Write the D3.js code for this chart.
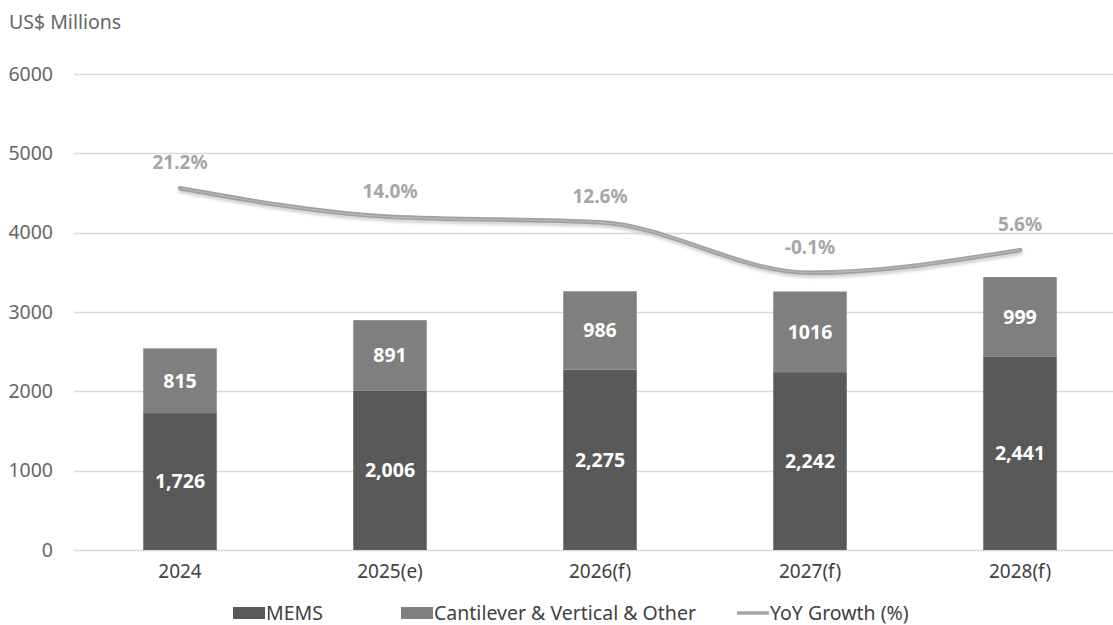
<!DOCTYPE html>
<html>
<head>
<meta charset="utf-8">
<script src="https://cdn.jsdelivr.net/npm/d3@7"></script>
<style>
  html, body { margin: 0; padding: 0; background: #fff; }
  svg { display: block; font-family: "Noto Sans", "Open Sans", sans-serif; }
</style>
</head>
<body>
<svg id="chart" width="1113" height="625"></svg>
<script>
const categories = ["2024", "2025(e)", "2026(f)", "2027(f)", "2028(f)"];
const memsValues = [1726, 2006, 2275, 2242, 2441];
const otherValues = [815, 891, 986, 1016, 999];
const yoyValues = [21.2, 14.0, 12.6, -0.1, 5.6];
const yTicks = [0, 1000, 2000, 3000, 4000, 5000, 6000];
const seriesNames = ["MEMS", "Cantilever & Vertical & Other", "YoY Growth (%)"];
const unitLabel = "US$ Millions";

const svg = d3.select("#chart");
const W = 1113, H = 625;
const plot = { left: 75, right: 1125, top: 74, bottom: 550 };
const colors = { mems: "#595959", other: "#7f7f7f", line: "#a5a5a5", grid: "#d9d9d9" };

const x = d3.scaleBand().domain(categories).range([plot.left, plot.right]).padding(0);
const y = d3.scaleLinear().domain([0, 6000]).range([plot.bottom, plot.top]);
const y2 = d3.scaleLinear().domain([-70, 50]).range([plot.bottom, plot.top]);
const barW = x.bandwidth() * 0.35;

const defs = svg.append("defs");
const f = defs.append("filter").attr("id", "blur").attr("x", "-10%").attr("y", "-50%").attr("width", "120%").attr("height", "200%");
f.append("feGaussianBlur").attr("stdDeviation", 1.5);

// unit label
svg.append("text").attr("x", 9).attr("y", 29).attr("fill", "#666")
  .attr("font-size", 19.5).text(unitLabel);

// y axis
const yAxis = d3.axisLeft(y).tickValues(yTicks).tickSize(0).tickPadding(0).tickFormat(d3.format("d"));
const gY = svg.append("g").attr("transform", `translate(53,0)`).call(yAxis);
gY.select(".domain").remove();
gY.selectAll("text").attr("font-size", 19.5).attr("fill", "#666").attr("font-family", "Noto Sans, sans-serif");

// gridlines
svg.append("g").selectAll("line").data(yTicks).join("line")
  .attr("x1", 74).attr("x2", W)
  .attr("y1", d => Math.round(y(d)) + 0.5).attr("y2", d => Math.round(y(d)) + 0.5)
  .attr("stroke", colors.grid).attr("stroke-width", 1.3);

// x axis labels
const xAxis = d3.axisBottom(x).tickSize(0).tickPadding(0);
const gX = svg.append("g").attr("transform", `translate(0,${plot.bottom + 14})`).call(xAxis);
gX.select(".domain").remove();
gX.selectAll("text").attr("font-size", 19).attr("fill", "#404040").attr("dy", "0.75em").attr("font-family", "Noto Sans, sans-serif");

// stacked bars
const stackData = categories.map((c, i) => ({ cat: c, mems: memsValues[i], other: otherValues[i] }));
const stack = d3.stack().keys(["mems", "other"])(stackData);
const fills = { mems: colors.mems, other: colors.other };
const formats = { mems: d3.format(","), other: d3.format("d") };

const layers = svg.append("g").selectAll("g").data(stack).join("g")
  .attr("fill", d => fills[d.key]);
layers.selectAll("rect").data(d => d).join("rect")
  .attr("x", d => x(d.data.cat) + (x.bandwidth() - barW) / 2)
  .attr("width", barW)
  .attr("y", d => y(d[1]))
  .attr("height", d => y(d[0]) - y(d[1]));

// bar labels
stack.forEach(layer => {
  svg.append("g").selectAll("text").data(layer).join("text")
    .attr("x", d => x(d.data.cat) + x.bandwidth() / 2)
    .attr("y", d => (y(d[0]) + y(d[1])) / 2)
    .attr("dy", "0.35em")
    .attr("text-anchor", "middle")
    .attr("fill", "#fff").attr("font-weight", "bold").attr("font-size", 19.5)
    .text(d => formats[layer.key](d[1] - d[0]));
});

// YoY line
const linePts = categories.map((c, i) => [x(c) + x.bandwidth() / 2, y2(yoyValues[i])]);
const lineGen = d3.line().curve(d3.curveMonotoneX);
svg.append("path").attr("d", lineGen(linePts))
  .attr("fill", "none").attr("stroke", "#cfcfcf").attr("stroke-width", 4)
  .attr("stroke-linecap", "round").attr("transform", "translate(1,3)").attr("filter", "url(#blur)");
svg.append("path").attr("d", lineGen(linePts))
  .attr("fill", "none").attr("stroke", "#a0a0a0").attr("stroke-width", 4.5).attr("stroke-linecap", "round");
svg.append("path").attr("d", lineGen(linePts))
  .attr("fill", "none").attr("stroke", "#b8b8b8").attr("stroke-width", 1.2).attr("stroke-linecap", "round");

svg.append("g").selectAll("text").data(yoyValues).join("text")
  .attr("x", (d, i) => x(categories[i]) + x.bandwidth() / 2)
  .attr("y", d => y2(d) - 19)
  .attr("text-anchor", "middle")
  .attr("fill", "#a6a6a6").attr("font-weight", "bold").attr("font-size", 19)
  .text(d => d.toFixed(1) + "%");

// legend
const legend = svg.append("g");
const legItems = [
  { name: seriesNames[0], type: "rect", color: colors.mems, x: 233 },
  { name: seriesNames[1], type: "rect", color: colors.other, x: 401 },
  { name: seriesNames[2], type: "line", color: "#a5a5a5", x: 737 }
];
legItems.forEach(it => {
  const g = legend.append("g").attr("transform", `translate(${it.x},613)`);
  if (it.type === "rect") {
    g.append("rect").attr("x", 0).attr("y", -6).attr("width", 32).attr("height", 12).attr("fill", it.color);
  } else {
    g.append("line").attr("x1", 0).attr("x2", 32).attr("y1", 0).attr("y2", 0)
      .attr("stroke", it.color).attr("stroke-width", 3.5);
  }
  g.append("text").attr("x", 33).attr("y", 0).attr("dy", "0.35em")
    .attr("fill", "#404040").attr("font-size", 19.5).text(it.name);
});
</script>
</body>
</html>
